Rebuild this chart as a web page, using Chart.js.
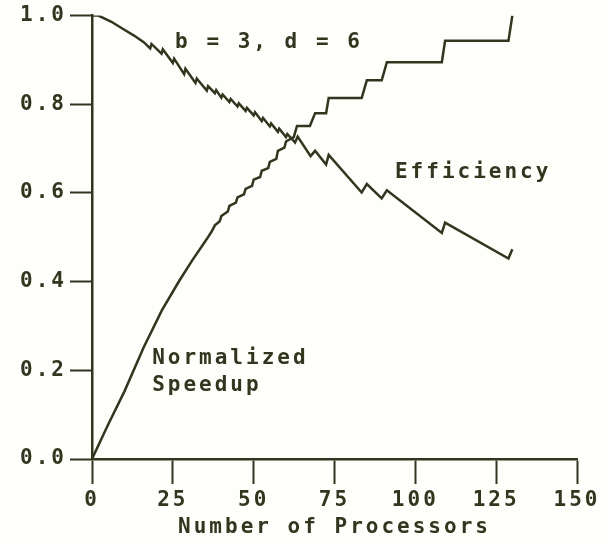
<!DOCTYPE html>
<html>
<head>
<meta charset="utf-8">
<script src="https://cdn.jsdelivr.net/npm/chart.js@4.4.1/dist/chart.umd.min.js"></script>
<style>
  html, body { margin: 0; padding: 0; background: #fefefa; }
  canvas { display: block; }
</style>
</head>
<body>
<canvas id="speedupChart" width="610" height="546"></canvas>
<script>
// values (b = 3, d = 6)
const effProcs = [0, 2, 6, 10, 13, 16, 18, 18.4, 21.5, 21.9, 25, 25.4, 28.5, 28.9, 32, 32.4,
    35.5, 35.9, 38, 38.4, 40, 40.4, 42.5, 42.9, 45, 45.4, 47.5, 47.9, 50, 50.4, 52.5, 52.9,
    55, 55.4, 57.5, 57.9, 60, 60.4, 62.8, 63.6, 67.6, 69, 72.4, 73.2, 83.4, 85, 89.6, 91.2,
    108.2, 109.2, 128.8, 130];
const effValues = [1.000, 1.000, 0.986, 0.968, 0.955, 0.940, 0.926, 0.936, 0.914, 0.924, 0.893, 0.903, 0.868, 0.880, 0.848, 0.858,
    0.831, 0.841, 0.825, 0.832, 0.815, 0.822, 0.805, 0.812, 0.795, 0.802, 0.785, 0.792, 0.775, 0.782, 0.762, 0.769,
    0.750, 0.757, 0.738, 0.745, 0.726, 0.733, 0.714, 0.727, 0.683, 0.695, 0.664, 0.686, 0.601, 0.620, 0.588, 0.606,
    0.510, 0.533, 0.452, 0.473];

const spdProcs = [0, 5, 10, 16, 21.6, 27, 31, 35.5, 37, 38, 39.5, 40, 42, 42.5, 44.5, 45, 47, 47.5, 49.5, 50,
    52, 52.5, 54.5, 55, 57, 57.5, 59.5, 60, 62.4, 63.4, 67.4, 69, 72.4, 73.2, 83.4, 85, 89.6, 91.2,
    108.2, 109.2, 128.8, 130];
const spdValues = [0, 0.078, 0.152, 0.252, 0.335, 0.402, 0.448, 0.496, 0.513, 0.527, 0.536, 0.548, 0.558, 0.571, 0.578, 0.590, 0.597, 0.609, 0.616, 0.630,
    0.636, 0.650, 0.656, 0.670, 0.677, 0.695, 0.702, 0.716, 0.726, 0.751, 0.751, 0.780, 0.780, 0.814, 0.814, 0.854, 0.854, 0.895,
    0.895, 0.943, 0.943, 1.000];

const xTicks = [0, 25, 50, 75, 100, 125, 150];
const yTicks = [0.0, 0.2, 0.4, 0.6, 0.8, 1.0];

const ink = '#33351f';
const typeFont = { family: '"DejaVu Sans Mono", monospace', size: 21, weight: 'bold' };

function toPoints(xs, ys) {
    return xs.map((x, i) => ({ x: x, y: ys[i] }));
}

// typewriter look: wide letter spacing on everything drawn
const spacing = {
    id: 'spacing',
    beforeUpdate(chart) { chart.ctx.letterSpacing = '3px'; },
    beforeDraw(chart) { chart.ctx.letterSpacing = '3px'; }
};

// the free text labels inside the plot
const notes = {
    id: 'notes',
    afterDatasetsDraw(chart) {
        const { ctx, scales: { x, y } } = chart;
        const put = (text, px, py) => {
            ctx.fillText(text, x.getPixelForValue(px), y.getPixelForValue(py));
        };
        ctx.save();
        ctx.letterSpacing = '3px';
        ctx.fillStyle = ink;
        ctx.font = 'bold 21px "DejaVu Sans Mono", monospace';
        ctx.textAlign = 'left';
        ctx.textBaseline = 'middle';
        put('b = 3, d = 6', 25.7, 0.939);
        put('Efficiency', 93.7, 0.645);
        put('Normalized', 18.6, 0.227);
        put('Speedup', 18.6, 0.166);
        ctx.restore();
    }
};

new Chart(document.getElementById('speedupChart'), {
    type: 'line',
    data: {
        datasets: [
            { label: 'Efficiency', data: toPoints(effProcs, effValues) },
            { label: 'Normalized Speedup', data: toPoints(spdProcs, spdValues) }
        ]
    },
    options: {
        responsive: false,
        animation: false,
        devicePixelRatio: 1,
        layout: { padding: { left: 0, top: 14, right: 33, bottom: 0 } },
        elements: {
            line: { borderColor: ink, borderWidth: 2.5, tension: 0, fill: false },
            point: { radius: 0 }
        },
        plugins: {
            legend: { display: false },
            tooltip: { enabled: false }
        },
        scales: {
            x: {
                type: 'linear',
                min: 0,
                max: 150,
                afterBuildTicks: s => { s.ticks = xTicks.map(v => ({ value: v })); },
                afterFit: s => { s.height = 87; },
                ticks: { color: ink, font: typeFont, padding: 4, maxRotation: 0 },
                grid: { drawOnChartArea: false, drawTicks: true, tickLength: 25, tickColor: ink, tickWidth: 2 },
                border: { display: true, color: ink, width: 2.5 },
                title: {
                    display: true,
                    text: 'Number of Processors',
                    color: ink,
                    font: typeFont,
                    padding: { top: 0, bottom: 6 }
                }
            },
            y: {
                min: 0,
                max: 1,
                afterBuildTicks: s => { s.ticks = yTicks.map(v => ({ value: v })); },
                afterFit: s => { s.width = 92; },
                ticks: { color: ink, font: typeFont, padding: 3, callback: v => v.toFixed(1) },
                grid: { drawOnChartArea: false, drawTicks: true, tickLength: 22, tickColor: ink, tickWidth: 2 },
                border: { display: true, color: ink, width: 2.5 }
            }
        }
    },
    plugins: [spacing, notes]
});
</script>
</body>
</html>
